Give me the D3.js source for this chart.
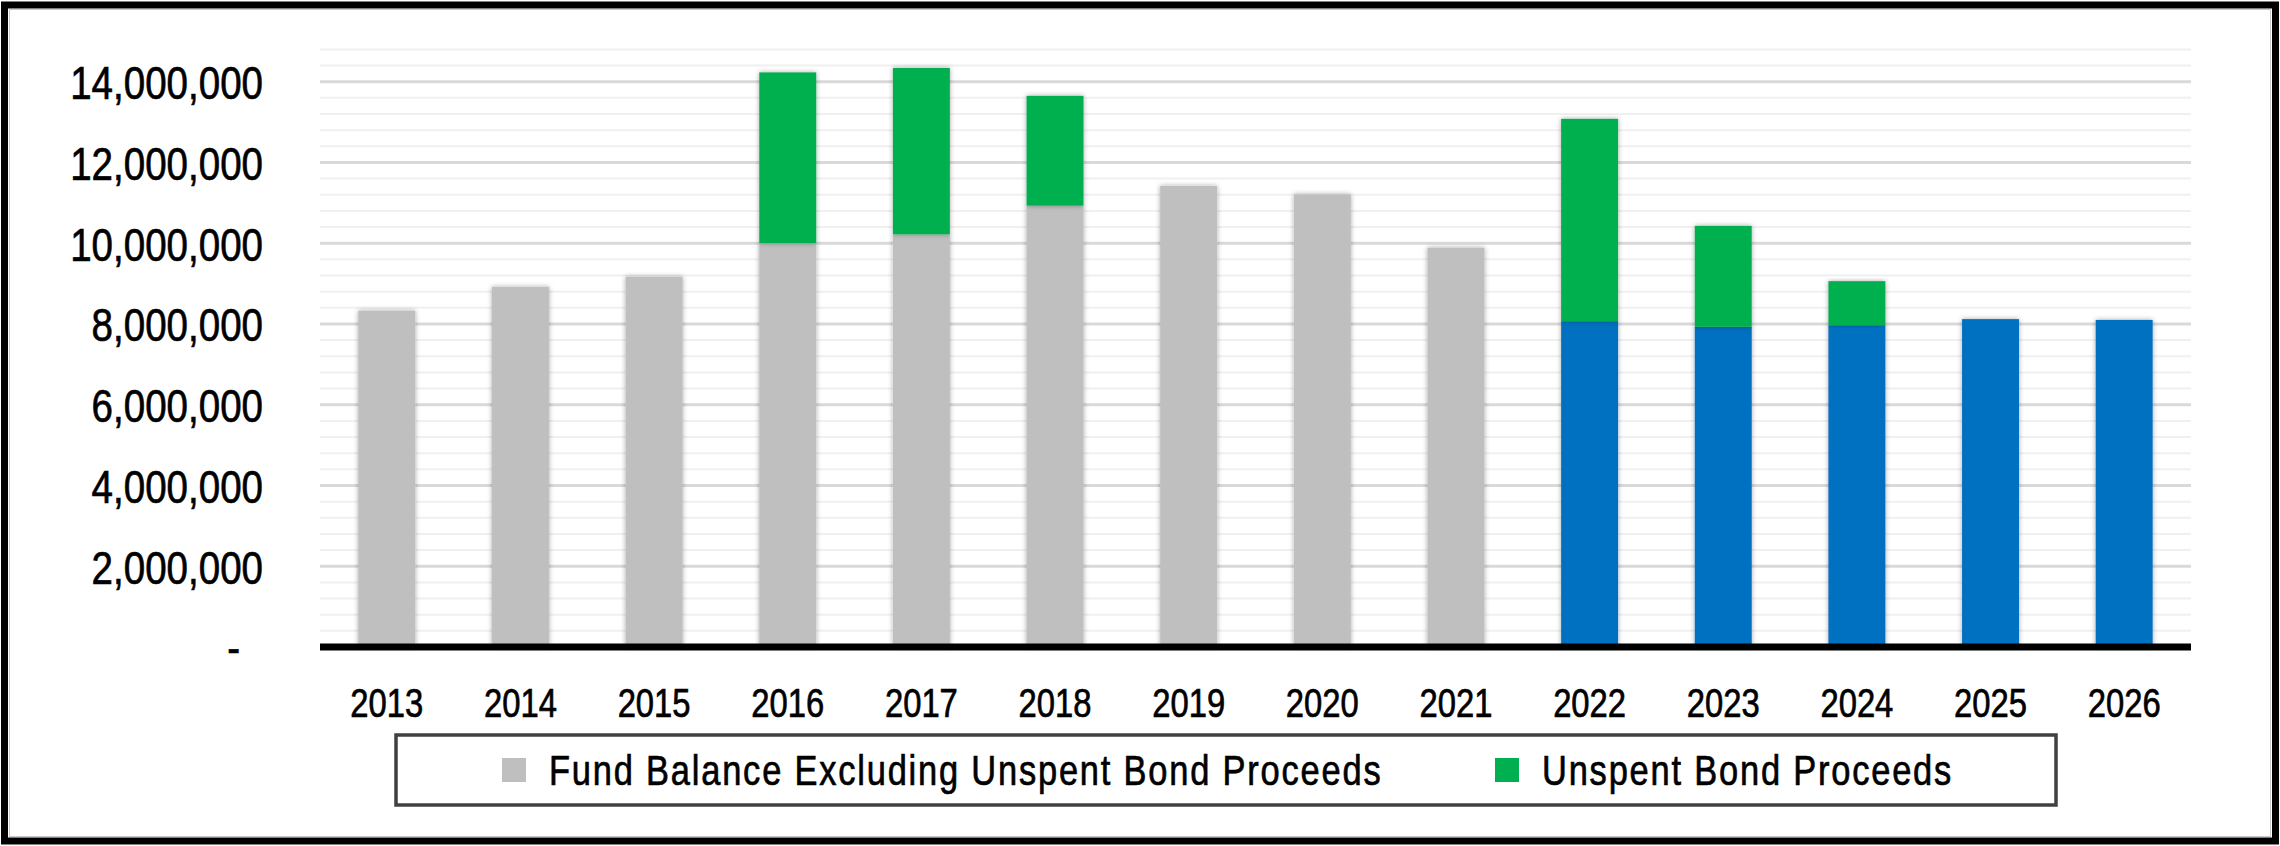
<!DOCTYPE html>
<html>
<head>
<meta charset="utf-8">
<script src="https://cdn.jsdelivr.net/npm/d3@7"></script>
<style>
	body { margin: 0; background: #fff; }
	svg { display: block; }
	text { font-family: "Liberation Sans", Arial, sans-serif; fill: #000; stroke: #000; stroke-width: 0.7px; }
</style>
</head>
<body>
<div id="chart-area"></div>
<script>
// values
var years = ["2013", "2014", "2015", "2016", "2017", "2018", "2019", "2020", "2021", "2022", "2023", "2024", "2025", "2026"];
var fundBalance = [8330000, 8920000, 9170000, 10000000, 10220000, 10930000, 11420000, 11210000, 9890000, 8070000, 7930000, 7970000, 8120000, 8100000];
var unspentBond = [0, 0, 0, 4230000, 4120000, 2720000, 0, 0, 0, 5010000, 2500000, 1090000, 0, 0];
var seriesNames = ["Fund Balance Excluding Unspent Bond Proceeds", "Unspent Bond Proceeds"];
var majorTicks = [0, 2000000, 4000000, 6000000, 8000000, 10000000, 12000000, 14000000];
var firstProjected = "2022";

var W = 2280, H = 846;
var plot = { left: 320, right: 2191, top: 49.4, bottom: 647 };
var narrow = "scale(0.82,1)"; // no Arial Narrow installed, squeeze Liberation Sans

var svg = d3.select("#chart-area")
	.append("svg")
	.attr("width", W)
	.attr("height", H);

var defs = svg.append("defs");
defs.append("filter")
	.attr("id", "shadow")
	.attr("x", "-20%").attr("y", "-5%")
	.attr("width", "140%").attr("height", "110%")
	.append("feDropShadow")
	.attr("dx", 0).attr("dy", 0)
	.attr("stdDeviation", 2.5)
	.attr("flood-color", "#000")
	.attr("flood-opacity", 0.35);

svg.append("rect")
	.attr("width", W).attr("height", H)
	.attr("fill", "#fff");

var xScale = d3.scaleBand()
	.domain(years)
	.range([plot.left, plot.right])
	.paddingInner(0.574)
	.paddingOuter(0.287);

var yScale = d3.scaleLinear()
	.domain([0, 14800000])
	.range([plot.bottom, plot.top]);

// minor gridlines every 400k, major every 2M
var minorTicks = d3.range(400000, 14800001, 400000).filter(d => d % 2000000 !== 0);

svg.append("g").selectAll("line")
	.data(minorTicks)
	.enter().append("line")
	.attr("x1", plot.left).attr("x2", plot.right)
	.attr("y1", d => yScale(d)).attr("y2", d => yScale(d))
	.attr("stroke", "#f0f0f0")
	.attr("stroke-width", 2);

svg.append("g").selectAll("line")
	.data(majorTicks.filter(d => d > 0))
	.enter().append("line")
	.attr("x1", plot.left).attr("x2", plot.right)
	.attr("y1", d => yScale(d)).attr("y2", d => yScale(d))
	.attr("stroke", "#d9d9d9")
	.attr("stroke-width", 3);

// stacked bars
var rows = years.map((y, i) => ({ year: y, fund: fundBalance[i], bond: unspentBond[i] }));
var stack = d3.stack().keys(["fund", "bond"])(rows);
var colorFor = function (key, year) {
	if (key === "bond") return "#00b050";
	return year >= firstProjected ? "#0070c0" : "#bfbfbf";
};

var barG = svg.append("g");
stack.forEach(layer => {
	barG.selectAll("rect.s-" + layer.key)
		.data(layer.filter(d => d[1] - d[0] > 0))
		.enter().append("rect")
		.attr("class", "s-" + layer.key)
		.attr("x", d => xScale(d.data.year))
		.attr("width", xScale.bandwidth())
		.attr("y", d => yScale(d[1]))
		.attr("height", d => yScale(d[0]) - yScale(d[1]))
		.attr("fill", d => colorFor(layer.key, d.data.year))
		.attr("filter", "url(#shadow)");
});

// axis line
svg.append("line")
	.attr("x1", plot.left).attr("x2", plot.right)
	.attr("y1", yScale(0)).attr("y2", yScale(0))
	.attr("stroke", "#000")
	.attr("stroke-width", 7);

var yAxis = d3.axisLeft(yScale)
	.tickValues(majorTicks)
	.tickSize(0)
	.tickPadding(0)
	.tickFormat(d => d === 0 ? "-" : d3.format(",")(d));

var yAxisG = svg.append("g")
	.attr("transform", "translate(263,0)")
	.call(yAxis);
yAxisG.select(".domain").remove();
yAxisG.selectAll(".tick text")
	.attr("font-size", 47)
	.attr("x", d => d === 0 ? -28 : 0)
	.attr("dy", "0.36em")
	.attr("transform", narrow);

var xAxis = d3.axisBottom(xScale).tickSize(0).tickPadding(0);
var xAxisG = svg.append("g")
	.attr("transform", "translate(0,717)")
	.call(xAxis);
xAxisG.select(".domain").remove();
xAxisG.selectAll(".tick text")
	.attr("font-size", 40)
	.attr("dy", 0)
	.attr("y", 0)
	.attr("transform", narrow);
svg.selectAll("g").attr("font-family", null);

// legend
var legend = svg.append("g");
legend.append("rect")
	.attr("x", 396).attr("y", 735)
	.attr("width", 1660).attr("height", 70)
	.attr("fill", "#fff")
	.attr("stroke", "#404040")
	.attr("stroke-width", 3.5);

var legendItems = [
	{ name: seriesNames[0], color: "#bfbfbf", x: 502 },
	{ name: seriesNames[1], color: "#00b050", x: 1495 }
];
legendItems.forEach(item => {
	legend.append("rect")
		.attr("x", item.x).attr("y", 758)
		.attr("width", 24).attr("height", 24)
		.attr("fill", item.color);
	legend.append("g")
		.attr("transform", "translate(" + (item.x + 47) + ",785) " + narrow)
		.append("text")
		.attr("font-size", 42)
		.attr("letter-spacing", "2.2px")
		.text(item.name);
});

// outer frame
svg.append("rect")
	.attr("x", 9.5).attr("y", 9.5)
	.attr("width", W - 19).attr("height", H - 19)
	.attr("fill", "none")
	.attr("stroke", "#c8c8c8")
	.attr("stroke-width", 1);
svg.append("rect")
	.attr("x", 4.5).attr("y", 5)
	.attr("width", W - 9).attr("height", H - 10)
	.attr("fill", "none")
	.attr("stroke", "#000")
	.attr("stroke-width", 7);
</script>
</body>
</html>
